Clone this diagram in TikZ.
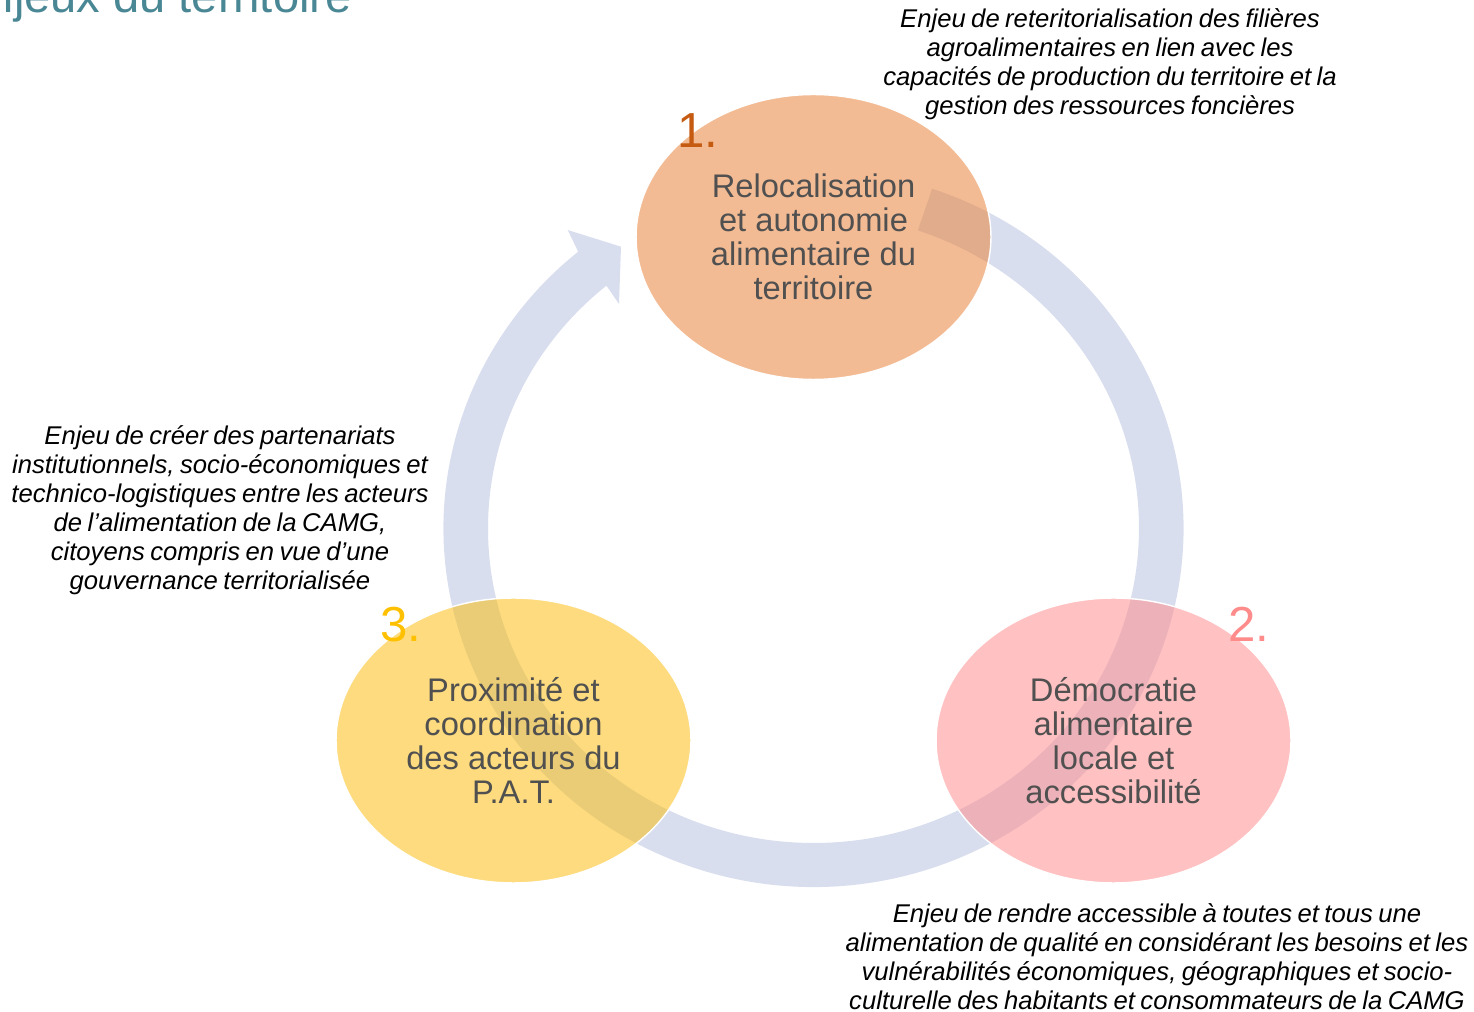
\documentclass[tikz,border=0pt]{standalone}
\usepackage{fontspec}
\setmainfont{Liberation Sans}
\usetikzlibrary{shapes.geometric}

\definecolor{ringblue}{HTML}{D9DEEE}
\definecolor{peach}{HTML}{E9833C}
\definecolor{rose}{HTML}{FF8E8E}
\definecolor{gold}{HTML}{FBBE14}
\definecolor{txtgray}{HTML}{505050}
\definecolor{teal}{HTML}{4A8795}
\definecolor{numorange}{HTML}{C55A11}
\definecolor{numrose}{HTML}{FF8B8B}
\definecolor{numgold}{HTML}{FFC000}

\newcommand{\noteface}{\fontsize{14.6}{16.5}\selectfont\itshape\spaceskip 3.1pt plus 1pt minus 0.5pt\relax}

\tikzset{
	enjeu/.style={ellipse, minimum width=7.1cm, minimum height=5.7cm, inner sep=0pt, draw=white, line width=0.8pt, fill opacity=0.55, text opacity=1, text=txtgray, align=center, font=\fontsize{18.6}{19.4}\selectfont},
	numero/.style={inner sep=0pt, font=\fontsize{28}{30}\selectfont},
	note/.style={inner sep=0pt, align=center, font=\noteface},
}

\begin{document}
\begin{tikzpicture}[x=0.02cm, y=0.02cm]
	\useasboundingbox (0, 0) rectangle (1474, 1011);
	\clip (0, 0) rectangle (1474, 1011);
	\node[anchor=base east, inner sep=0pt, text=teal, font=\fontsize{26.8}{30}\selectfont] (titre) at (352, 998) {Enjeux du territoire};

	% the ring, going round clockwise
	\coordinate (ringc) at (813.5, 482.6);
	\fill[ringblue] ([shift={(71.3:370 and 358.6)}]ringc) arc[start angle=71.3, end angle=-230.5, x radius=370, y radius=358.6]
		-- (567.7, 781) -- (621, 764.3) -- (619, 707)
		-- ([shift={(-230.5:325.5 and 314.6)}]ringc) arc[start angle=-230.5, end angle=71.3, x radius=325.5, y radius=314.6] -- cycle;

	\node[enjeu, fill=peach] (relocal) at (813.5, 774) {Relocalisation\\et autonomie\\alimentaire du\\territoire};
	\node[enjeu, fill=rose] (democratie) at (1113.5, 270.5) {Démocratie\\alimentaire\\locale et\\accessibilité};
	\node[enjeu, fill=gold] (proximite) at (513.5, 270.5) {Proximité et\\coordination\\des acteurs du\\P.A.T.};

	\node[numero, text=numorange] (un) at (698, 880.5) {1.};
	\node[numero, text=numrose] (deux) at (1248.5, 386.5) {2.};
	\node[numero, text=numgold] (trois) at (401, 386.5) {3.};

	\node[note] (noteun) at (1110, 947) {Enjeu de reteritorialisation des filières\\agroalimentaires en lien avec les\\capacités de production du territoire et la\\gestion des ressources foncières};
	\node[note] (notedeux) at (1157, 54.5) {Enjeu de rendre accessible à toutes et tous une\\alimentation de qualité en considérant les besoins et les\\vulnérabilités économiques, géographiques et socio-\\culturelle des habitants et consommateurs de la CAMG};
	\node[note] (notetrois) at (220, 500.5) {Enjeu de créer des partenariats\\institutionnels, socio-économiques et\\technico-logistiques entre les acteurs\\de l’alimentation de la CAMG,\\citoyens compris en vue d’une\\gouvernance territorialisée};
\end{tikzpicture}
\end{document}
